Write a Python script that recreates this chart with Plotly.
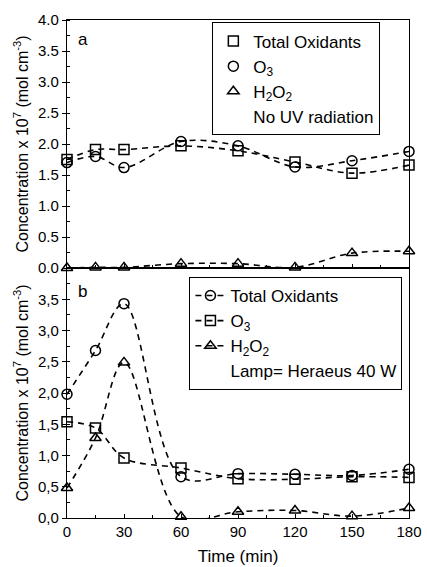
import plotly.graph_objects as go
from plotly.subplots import make_subplots

time_min = [0, 15, 30, 60, 90, 120, 150, 180]

# Panel a: no UV radiation
a_total = [1.75, 1.91, 1.91, 1.97, 1.89, 1.71, 1.53, 1.66]
a_o3 = [1.70, 1.80, 1.62, 2.04, 1.97, 1.63, 1.73, 1.88]
a_h2o2 = [0.00, 0.01, 0.01, 0.07, 0.07, 0.01, 0.24, 0.27]

# Panel b: Lamp = Heraeus 40 W
b_total = [1.98, 2.68, 3.43, 0.66, 0.71, 0.70, 0.68, 0.78]
b_o3 = [1.54, 1.44, 0.96, 0.80, 0.63, 0.62, 0.66, 0.65]
b_h2o2 = [0.48, 1.28, 2.49, 0.02, 0.10, 0.12, 0.03, 0.16]

x_ticks = [0, 30, 60, 90, 120, 150, 180]
ya_ticks = [0, 0.5, 1.0, 1.5, 2.0, 2.5, 3.0, 3.5, 4.0]
yb_ticks = [0, 0.5, 1.0, 1.5, 2.0, 2.5, 3.0, 3.5]
yb_ticktext = ["0,0", "0,5", "1,0", "1,5", "2,0", "2,5", "3,0", "3,5"]

FONT = "Liberation Sans"
DASH = "6px,5px"
LW = 1.6
MS = 10

fig = make_subplots(rows=2, cols=1, shared_xaxes=True, vertical_spacing=0,
                    row_heights=[248, 250])

# ---- Panel a lines (no legend)
for ys in (a_total, a_o3, a_h2o2):
    fig.add_trace(go.Scatter(x=time_min, y=ys, mode="lines", showlegend=False,
                             line=dict(color="black", width=LW, dash=DASH,
                                       shape="spline", smoothing=1.0),
                             hoverinfo="skip"), row=1, col=1)

# ---- Panel a markers (legend)
a_series = [("Total Oxidants", a_total, "square-open"),
            ("O<sub>3</sub>", a_o3, "circle-open"),
            ("H<sub>2</sub>O<sub>2</sub>", a_h2o2, "triangle-up-open")]
for name, ys, sym in a_series:
    fig.add_trace(go.Scatter(x=time_min, y=ys, mode="markers", name=name,
                             legend="legend", cliponaxis=False,
                             marker=dict(symbol=sym, size=MS, color="black",
                                         line=dict(width=1.5, color="black"))),
                  row=1, col=1)
fig.add_trace(go.Scatter(x=[None], y=[None], mode="markers", name="No UV radiation",
                         legend="legend",
                         marker=dict(color="rgba(0,0,0,0)", size=1)), row=1, col=1)

# ---- Panel b
b_series = [("Total Oxidants", b_total, "circle-open"),
            ("O<sub>3</sub>", b_o3, "square-open"),
            ("H<sub>2</sub>O<sub>2</sub>", b_h2o2, "triangle-up-open")]
for i, (name, ys, sym) in enumerate(b_series):
    fig.add_trace(go.Scatter(x=time_min, y=ys, mode="lines+markers", name=name,
                             legend="legend2", legendgroup=f"b{i}", cliponaxis=False,
                             line=dict(color="black", width=LW, dash=DASH,
                                       shape="spline", smoothing=1.0),
                             marker=dict(symbol=sym, size=MS, color="black",
                                         line=dict(width=1.5, color="black"))),
                  row=2, col=1)
fig.add_trace(go.Scatter(x=[None], y=[None], mode="markers", name="Lamp= Heraeus 40 W",
                         legend="legend2", legendgroup="b3",
                         marker=dict(color="rgba(0,0,0,0)", size=1)), row=2, col=1)

axis_common = dict(showline=True, linecolor="black", linewidth=1.2, mirror=True,
                   showgrid=False, zeroline=False,
                   tickfont=dict(family=FONT, size=15, color="black"))

fig.update_xaxes(range=[0, 180], tickvals=x_ticks, ticks="inside", ticklen=4,
                 tickcolor="black",
                 minor=dict(tickvals=[15, 45, 75, 105, 135, 165], ticks="inside",
                            ticklen=3, tickcolor="black"),
                 **axis_common)
fig.update_xaxes(showticklabels=False, row=1, col=1)
fig.update_xaxes(title=dict(text="Time (min)", font=dict(family=FONT, size=17, color="black"),
                            standoff=11), automargin=False, row=2, col=1)

ytitle = "Concentration x 10<sup>7</sup> (mol cm<sup>-3</sup>)"
fig.update_yaxes(range=[0, 4], tickvals=ya_ticks, tickformat=".1f",
                 ticks="outside", ticklen=4, tickcolor="black",
                 minor=dict(dtick=0.25, ticks="inside", ticklen=3, tickcolor="black"),
                 title=dict(text=ytitle, font=dict(family=FONT, size=16, color="black"),
                            standoff=5),
                 row=1, col=1, **axis_common)
fig.update_yaxes(range=[0, 4], tickvals=yb_ticks, ticktext=yb_ticktext,
                 ticks="outside", ticklen=4, tickcolor="black",
                 minor=dict(dtick=0.25, ticks="inside", ticklen=3, tickcolor="black"),
                 title=dict(text=ytitle, font=dict(family=FONT, size=16, color="black"),
                            standoff=5),
                 row=2, col=1, **axis_common)

fig.add_annotation(text="a", xref="x domain", yref="y domain", x=0.025, y=0.92,
                   xanchor="left", yanchor="middle", showarrow=False,
                   font=dict(family=FONT, size=17, color="black"))
fig.add_annotation(text="b", xref="x2 domain", yref="y2 domain", x=0.025, y=0.905,
                   xanchor="left", yanchor="middle", showarrow=False,
                   font=dict(family=FONT, size=17, color="black"))

fig.update_layout(
    width=427, height=567,
    margin=dict(l=67, r=18, t=20, b=49),
    paper_bgcolor="white", plot_bgcolor="white",
    font=dict(family=FONT, color="black"),
    legend=dict(x=0.425, y=0.995, xanchor="left", yanchor="top",
                bgcolor="white", bordercolor="black", borderwidth=1,
                font=dict(family=FONT, size=17, color="black"),
                itemwidth=30, traceorder="normal", tracegroupgap=0),
    legend2=dict(x=0.358, y=0.484, xanchor="left", yanchor="top",
                 bgcolor="white", bordercolor="black", borderwidth=1,
                 font=dict(family=FONT, size=17, color="black"),
                 itemwidth=30, traceorder="normal", tracegroupgap=2),
    showlegend=True,
)

fig.write_html("out.html")
